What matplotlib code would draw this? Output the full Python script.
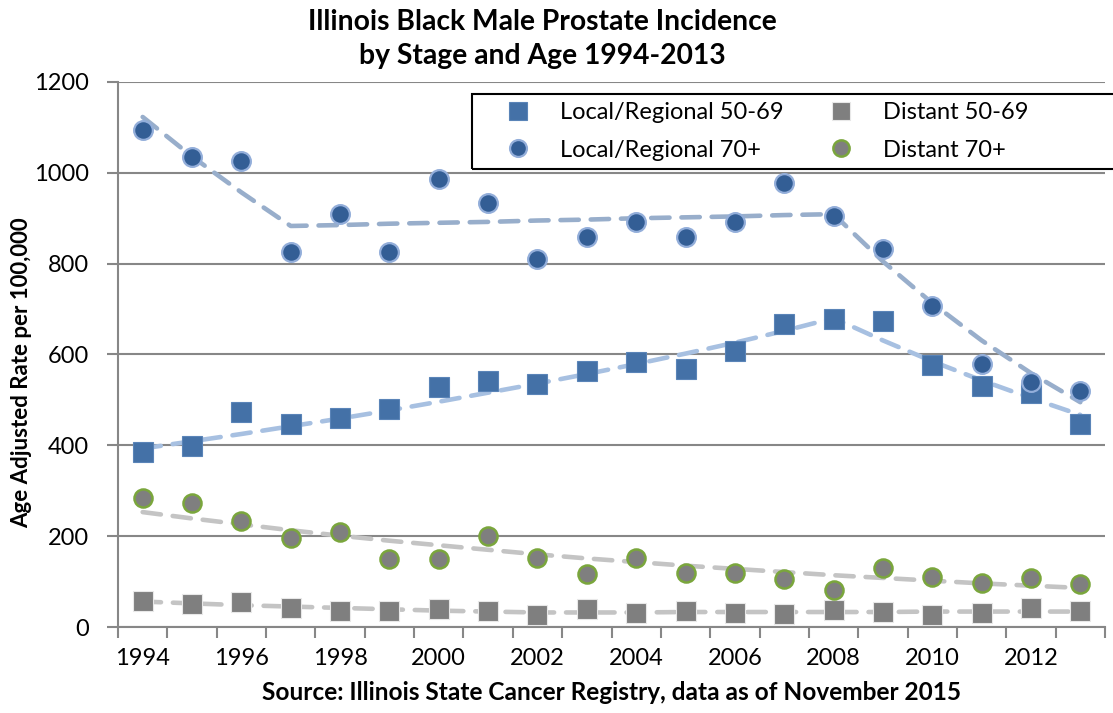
import matplotlib
matplotlib.use("Agg")
import matplotlib.pyplot as plt
from matplotlib.patches import Rectangle

plt.rcParams['font.family'] = ['Lato', 'DejaVu Sans']

years = list(range(1994, 2014))
tick_years = [1994, 1996, 1998, 2000, 2002, 2004, 2006, 2008, 2010, 2012]

lr_50_69 = [385, 398, 473, 447, 460, 480, 528, 541, 535, 564,
            584, 568, 608, 667, 678, 674, 577, 531, 515, 447]
lr_70 = [1094, 1035, 1026, 826, 909, 825, 986, 933, 810, 859,
         891, 859, 891, 977, 905, 832, 707, 578, 540, 520]
dist_50_69 = [57, 51, 55, 42, 35, 35, 40, 35, 26, 40,
              31, 35, 31, 28, 37, 33, 26, 31, 42, 35]
dist_70 = [284, 273, 233, 196, 209, 150, 150, 200, 152, 117,
           152, 119, 119, 106, 81, 130, 110, 97, 107, 95]

# trend lines (joinpoint fits)
trend_lr_50_69 = [393, 409, 425, 442, 459, 477, 496, 516, 536, 557,
                  579, 602, 626, 652, 680, 631, 585, 543, 504, 467]
trend_lr_70 = [1123, 1036, 957, 883, 885, 888, 890, 892, 895, 897,
               900, 902, 904, 907, 909, 805, 713, 631, 559, 495]
trend_dist_50_69 = [56, 52, 48, 45, 42, 39, 36, 34, 32, 32,
                    32, 33, 33, 33, 33, 33, 34, 34, 34, 34]
trend_dist_70 = [253, 239, 226, 213, 201, 190, 180, 170, 160, 151,
                 143, 135, 128, 121, 114, 108, 102, 96, 91, 86]

labels = ["Local/Regional 50-69", "Local/Regional 70+", "Distant 50-69", "Distant 70+"]

W, H = 1113, 713
fig = plt.figure(figsize=(W / 100, H / 100), dpi=100)
ax = fig.add_axes([118 / W, 1 - 627 / H, (1105 - 118) / W, (627 - 82) / H])

grid_c = '#878787'
dash = (0, (4.0, 2.6))
tw = 3.3
ax.plot(years, trend_lr_70, color='#98AECB', lw=tw, ls=dash, dash_capstyle='round', zorder=3)
ax.plot(years, trend_lr_50_69, color='#A7C0E1', lw=tw, ls=dash, dash_capstyle='round', zorder=3)
ax.plot(years, trend_dist_70, color='#C4C4C4', lw=tw, ls=dash, dash_capstyle='round', zorder=3)
ax.plot(years, trend_dist_50_69, color='#C4C4C4', lw=tw, ls=dash, dash_capstyle='round', zorder=3)

h1, = ax.plot(years, lr_50_69, ls='none', marker='s', ms=14, mfc='#4471A7', mec='#5A84B8', mew=0.8, zorder=4)
h2, = ax.plot(years, lr_70, ls='none', marker='o', ms=13.5, mfc='#335E95', mec='#93AEDA', mew=1.6, zorder=4)
h3, = ax.plot(years, dist_50_69, ls='none', marker='s', ms=14, mfc='#7F7F7F', mec='#E8E8E8', mew=0.8, zorder=4)
h4, = ax.plot(years, dist_70, ls='none', marker='o', ms=13, mfc='#7F7F7F', mec='#7AA63C', mew=1.8, zorder=4)

ax.set_xlim(1993.5, 2013.5)
ax.set_ylim(0, 1200)
ax.set_yticks(range(0, 1201, 200))
ax.set_xticks(tick_years)
ax.set_xticklabels([str(y) for y in tick_years])
ax.set_xticks([y - 0.5 for y in years] + [2013.5], minor=True)
ax.tick_params(axis='x', which='major', length=0, pad=15, labelsize=17)
ax.tick_params(axis='x', which='minor', length=8, width=1.5, color=grid_c, direction='out')
ax.tick_params(axis='y', length=8, width=1.5, color=grid_c, direction='out', pad=13, labelsize=17)
ax.grid(axis='y', color=grid_c, lw=1.5)
ax.set_axisbelow(True)
for s in ['top', 'right']:
    ax.spines[s].set_visible(False)
for s in ['left', 'bottom']:
    ax.spines[s].set_color(grid_c)
    ax.spines[s].set_linewidth(1.5)

fig.text(542 / W, 1 - 22 / H, "Illinois Black Male Prostate Incidence", ha='center', va='center',
         fontsize=20.3, fontweight='bold')
fig.text(542 / W, 1 - 56 / H, "by Stage and Age 1994-2013", ha='center', va='center',
         fontsize=20.3, fontweight='bold')
fig.text(22 / W, 1 - 373 / H, "Age Adjusted Rate per 100,000", rotation=90, ha='center', va='center',
         fontsize=16, fontweight='bold')
fig.text(612 / W, 1 - 693 / H, "Source: Illinois State Cancer Registry, data as of November 2015",
         ha='center', va='center', fontsize=17.6, fontweight='bold')

fig.patches.append(Rectangle((472 / W, 1 - 169 / H), (1120 - 472) / W, (169 - 94) / H,
                             transform=fig.transFigure, fill=False, ec='black', lw=1.5))
fig.legend([h1, h2, h3, h4], labels, ncol=2, frameon=False, loc='upper left',
           bbox_to_anchor=(506 / W, 1 - 102 / H), borderpad=0, borderaxespad=0,
           handlelength=1.0, handletextpad=1.27, columnspacing=1.95, labelspacing=0.7,
           fontsize=17, markerscale=0.9)

fig.savefig("out.png", dpi=100)
